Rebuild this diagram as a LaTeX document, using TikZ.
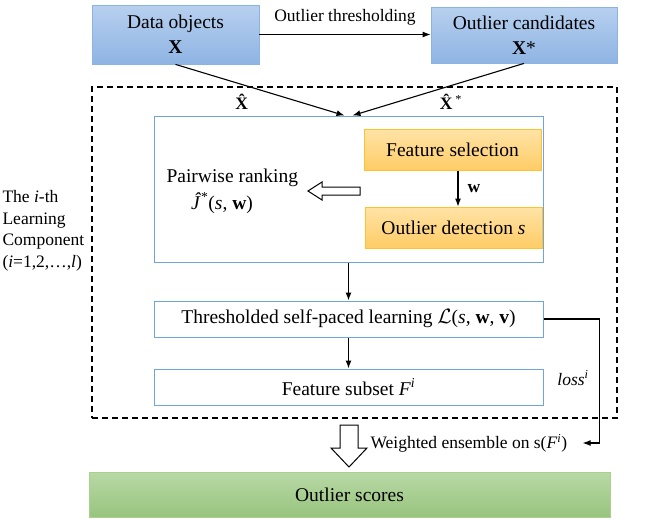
\documentclass[tikz,border=0pt]{standalone}
\usepackage{fontspec}
\setmainfont{Liberation Serif}
\usetikzlibrary{positioning,arrows.meta,calc}
\definecolor{bluetop}{HTML}{B7D0EF}
\definecolor{bluebot}{HTML}{8FB4E3}
\definecolor{blueedge}{HTML}{8DB3E2}
\definecolor{stageedge}{HTML}{6FA5DB}
\definecolor{orangetop}{HTML}{FFE3A6}
\definecolor{orangebot}{HTML}{FFCC66}
\definecolor{orangeedge}{HTML}{FFC22E}
\definecolor{greentop}{HTML}{B8D9A6}
\definecolor{greenbot}{HTML}{98C47E}
\definecolor{greenedge}{HTML}{A9D08E}

\begin{document}
\begin{tikzpicture}[x=1pt,y=-1pt,>={Latex[length=8pt,width=6pt]},line width=1.1pt,
    font=\fontsize{19.5}{25}\selectfont]
  \tikzstyle{topbox}=[draw=blueedge,line width=0.8pt,top color=bluetop,bottom color=bluebot,align=center,inner sep=0pt]
  \tikzstyle{stage}=[draw=stageedge,line width=1pt,fill=white,inner sep=0pt,minimum width=389pt]
  \tikzstyle{selbox}=[draw=orangeedge,line width=0.8pt,top color=orangetop,bottom color=orangebot,inner sep=0pt,minimum width=177pt,minimum height=41pt]
  \tikzstyle{lbl}=[font=\fontsize{17.5}{21.5}\selectfont,inner sep=0pt]
  \useasboundingbox (0,0) rectangle (665,522);
  % input data, top row
  \node[topbox,minimum width=167pt,minimum height=59pt] (data) at (175.5,34.5) {Data objects\\\textbf{X}};
  \node[topbox,minimum width=186pt,minimum height=56pt] (cand) at (524,35) {Outlier candidates\\\textbf{X}*};
  % learning component (dashed frame)
  \node[draw,dash pattern=on 6pt off 4pt,minimum width=525pt,minimum height=331pt] (comp) at (354.5,252.5) {};
  \node[lbl,anchor=west,align=left] (comptxt) at (2,231) {The \textit{i}-th\\Learning\\Component\\(\textit{i}=1,2,\ldots,\textit{l})};
  \node[stage,minimum height=146pt] (rankbox) at (348.5,189) {};
  \node[selbox] (fsel) at (452.5,150) {Feature selection};
  \node[selbox] (odet) at (453.5,227.5) {Outlier detection \textit{s}};
  \node[anchor=west,inner sep=0pt] (rank) at (166,178) {Pairwise ranking};
  \node[inner sep=0pt] (jrank) at (222,203) {\textit{\^{J}}\textsuperscript{*}(\textit{s}, \textbf{w})};
  \node[stage,minimum height=36pt] (spl) at (348.5,319) {Thresholded self-paced learning $\mathcal{L}$(\textit{s}, \textbf{w}, \textbf{v})};
  \node[stage,minimum height=36pt] (fsub) at (348.5,387) {Feature subset \textit{F}\textsuperscript{\textit{i}}};
  % ensemble output
  \node[draw=greenedge,line width=0.8pt,top color=greentop,bottom color=greenbot,minimum width=521pt,minimum height=45pt] (score) at (349.5,494.5) {Outlier scores};
  \node[lbl] (xhat) at (243,102) {\textbf{\^{X}}};
  \node[lbl] (xhats) at (451,102) {\textbf{\^{X}}\textsuperscript{*}};
  \node[lbl] (loss) at (573,378) {\textit{loss}\textsuperscript{\textit{i}}};
  \node[lbl,anchor=west] (wens) at (370,443) {Weighted ensemble on s(\textit{F}\textsuperscript{\textit{i}})};
  % connectors
  \draw[->] (data.east) -- (data.east -| cand.west) node[midway,above=9pt,lbl]{Outlier thresholding};
  \draw[->] (data.south) -- ([xshift=-4pt]rankbox.north);
  \draw[->] (cand.south) -- ([xshift=4pt]rankbox.north);
  \draw[->] ([xshift=5.5pt]fsel.south) -- ([xshift=5.5pt]fsel.south |- odet.north) node[midway,right=9pt,lbl]{\textbf{w}};
  \draw[->] (rankbox.south) -- (spl.north);
  \draw[->] (spl.south) -- (fsub.north);
  \draw[->] (spl.east) -- ++(56,0) |- ([xshift=15pt]wens.east);
  % hollow block arrows
  \draw[line width=1pt,fill=white] (360,187) -- (322,187) -- (322,182) -- (308,191) -- (322,200) -- (322,195) -- (360,195) -- cycle;
  \draw[line width=1pt,fill=white] (340,425) -- (358,425) -- (358,448) -- (367,448) -- (349,467) -- (331,448) -- (340,448) -- cycle;
\end{tikzpicture}
\end{document}
